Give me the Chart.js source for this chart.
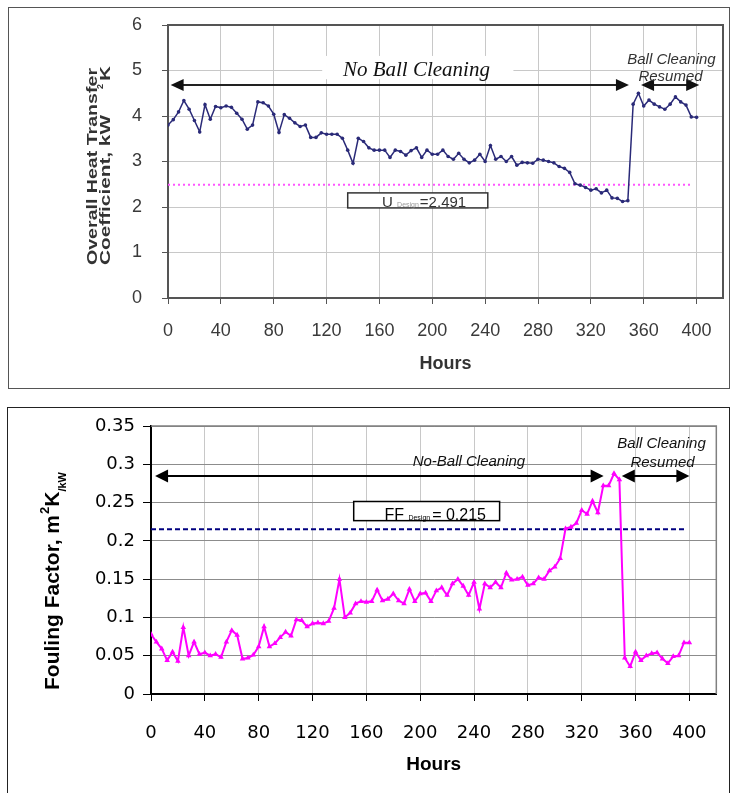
<!DOCTYPE html>
<html>
<head>
<meta charset="utf-8">
<script src="https://cdn.jsdelivr.net/npm/chart.js@4.4.1/dist/chart.umd.min.js"></script>
<style>
  body { margin: 0; background: #fff; width: 732px; height: 793px; overflow: hidden; position: relative; }
  .frame { position: absolute; box-sizing: border-box; }
  #topFrame { left: 8px; top: 7px; width: 722px; height: 382px; border: 1px solid #555; }
  #bottomFrame { left: 7px; top: 407px; width: 723px; height: 392px; border: 1px solid #222; }
  canvas { position: absolute; left: 0; top: 0; }
</style>
</head>
<body>
<div class="frame" id="topFrame"><canvas id="topChart" width="720" height="380"></canvas></div>
<div class="frame" id="bottomFrame"><canvas id="bottomChart" width="721" height="385"></canvas></div>
<script>
// hours of operation (same sampling for both charts)
const HOURS = [0, 4, 8, 12, 16, 20, 24, 28, 32, 36,
    40, 44, 48, 52, 56, 60, 64, 68, 72, 76,
    80, 84, 88, 92, 96, 100, 104, 108, 112, 116,
    120, 124, 128, 132, 136, 140, 144, 148, 152, 156,
    160, 164, 168, 172, 176, 180, 184, 188, 192, 196,
    200, 204, 208, 212, 216, 220, 224, 228, 232, 236,
    240, 244, 248, 252, 256, 260, 264, 268, 272, 276,
    280, 284, 288, 292, 296, 300, 304, 308, 312, 316,
    320, 324, 328, 332, 336, 340, 344, 348, 352, 356,
    360, 364, 368, 372, 376, 380, 384, 388, 392, 396,
    400];

// overall heat transfer coefficient, kW/m2K
const U_VALUES = [3.80, 3.92, 4.09, 4.34, 4.15, 3.90, 3.65, 4.25, 3.93, 4.21,
    4.18, 4.22, 4.19, 4.06, 3.93, 3.71, 3.80, 4.31, 4.29, 4.22,
    4.04, 3.64, 4.03, 3.95, 3.85, 3.77, 3.80, 3.53, 3.53, 3.63,
    3.60, 3.60, 3.60, 3.51, 3.25, 2.96, 3.51, 3.44, 3.30, 3.25,
    3.25, 3.25, 3.09, 3.25, 3.22, 3.14, 3.24, 3.30, 3.09, 3.25,
    3.16, 3.16, 3.25, 3.11, 3.05, 3.18, 3.05, 2.97, 3.03, 3.16,
    3.00, 3.35, 3.05, 3.11, 3.00, 3.11, 2.92, 2.98, 2.97, 2.96,
    3.05, 3.03, 3.00, 2.97, 2.89, 2.85, 2.76, 2.51, 2.48, 2.43,
    2.37, 2.40, 2.31, 2.37, 2.20, 2.19, 2.12, 2.14, 4.26, 4.50,
    4.22, 4.35, 4.26, 4.20, 4.15, 4.26, 4.42, 4.31, 4.24, 3.98,
    3.97];

// fouling factor, m2K/kW
const FF_VALUES = [0.078, 0.068, 0.059, 0.044, 0.055, 0.043, 0.087, 0.050, 0.068, 0.052,
    0.054, 0.050, 0.052, 0.048, 0.068, 0.083, 0.077, 0.046, 0.047, 0.051,
    0.062, 0.088, 0.062, 0.066, 0.074, 0.081, 0.076, 0.097, 0.096, 0.088,
    0.092, 0.093, 0.092, 0.095, 0.112, 0.150, 0.100, 0.106, 0.118, 0.121,
    0.120, 0.121, 0.136, 0.122, 0.124, 0.131, 0.122, 0.118, 0.137, 0.121,
    0.131, 0.132, 0.121, 0.135, 0.139, 0.129, 0.144, 0.150, 0.141, 0.129,
    0.146, 0.111, 0.144, 0.139, 0.146, 0.139, 0.158, 0.149, 0.150, 0.153,
    0.142, 0.144, 0.152, 0.150, 0.161, 0.166, 0.177, 0.216, 0.218, 0.223,
    0.240, 0.235, 0.252, 0.237, 0.272, 0.272, 0.288, 0.280, 0.047, 0.036,
    0.055, 0.044, 0.050, 0.053, 0.054, 0.046, 0.040, 0.049, 0.050, 0.067,
    0.067];

const U_DESIGN = 2.491;
const FF_DESIGN = 0.215;
const DESIGN_SPAN = [0, 397];

const X_TICKS = [0, 40, 80, 120, 160, 200, 240, 280, 320, 360, 400];
const U_TICKS = [0, 1, 2, 3, 4, 5, 6];
const FF_TICKS = [0, 0.05, 0.1, 0.15, 0.2, 0.25, 0.3, 0.35];

const SANS = "'Liberation Sans', Arial, sans-serif";

function points(xs, ys) {
    return xs.map((x, i) => ({x: x, y: ys[i]}));
}

function drawArrow(ctx, x1, x2, y, head, half) {
    ctx.beginPath();
    ctx.moveTo(x1 + head - 1, y);
    ctx.lineTo(x2 - head + 1, y);
    ctx.stroke();
    ctx.beginPath();
    ctx.moveTo(x1, y);
    ctx.lineTo(x1 + head, y - half);
    ctx.lineTo(x1 + head, y + half);
    ctx.closePath();
    ctx.fill();
    ctx.beginPath();
    ctx.moveTo(x2, y);
    ctx.lineTo(x2 - head, y - half);
    ctx.lineTo(x2 - head, y + half);
    ctx.closePath();
    ctx.fill();
}

// text stretched (or squeezed) to a given length, used for the rotated titles
function fitText(ctx, text, x, y, len) {
    const w = ctx.measureText(text).width;
    ctx.save();
    ctx.translate(x, y);
    ctx.scale(len / w, 1);
    ctx.fillText(text, 0, 0);
    ctx.restore();
}

function plotFrame(color, width) {
    return {
        id: 'plotFrame',
        beforeDatasetsDraw(chart) {
            const a = chart.chartArea, ctx = chart.ctx;
            ctx.save();
            ctx.strokeStyle = color;
            ctx.lineWidth = width;
            ctx.beginPath();
            ctx.moveTo(a.left, a.top);
            ctx.lineTo(a.right, a.top);
            ctx.lineTo(a.right, a.bottom);
            ctx.stroke();
            ctx.restore();
        }
    };
}

const topNotes = {
    id: 'topNotes',
    afterDraw(chart) {
        const ctx = chart.ctx, xs = chart.scales.x, ys = chart.scales.y, a = chart.chartArea;
        const px = v => xs.getPixelForValue(v), py = v => ys.getPixelForValue(v);
        ctx.save();
        // "No Ball Cleaning" label with white patch
        ctx.fillStyle = '#fff';
        ctx.fillRect(px(116.7), py(5.32), px(261.4) - px(116.7), py(4.81) - py(5.32));
        ctx.fillStyle = '#111';
        ctx.font = "italic 21px 'Liberation Serif', 'Times New Roman', serif";
        ctx.textAlign = 'center';
        ctx.textBaseline = 'alphabetic';
        ctx.fillText('No Ball Cleaning', px(188), py(4.89));
        // arrows
        ctx.strokeStyle = '#222';
        ctx.fillStyle = '#111';
        ctx.lineWidth = 2;
        drawArrow(ctx, px(2), px(348.8), py(4.68), 13, 6);
        drawArrow(ctx, px(358), px(402), py(4.68), 13, 6);
        // "Ball Cleaning Resumed"
        ctx.fillStyle = '#333';
        ctx.font = 'italic 15px ' + SANS;
        ctx.textBaseline = 'middle';
        ctx.fillText('Ball Cleaning', px(381), py(5.23));
        ctx.fillText('Resumed', px(380.3), py(4.86));
        // design value box
        const bx1 = px(136), bx2 = px(242), by1 = py(2.31), by2 = py(1.98);
        ctx.fillStyle = '#fff';
        ctx.fillRect(bx1, by1, bx2 - bx1, by2 - by1);
        ctx.strokeStyle = '#333';
        ctx.lineWidth = 1.5;
        ctx.strokeRect(bx1, by1, bx2 - bx1, by2 - by1);
        ctx.textAlign = 'left';
        ctx.textBaseline = 'alphabetic';
        let tx = px(162);
        const base = py(2.0);
        ctx.fillStyle = '#333';
        ctx.font = '15px ' + SANS;
        ctx.fillText('U', tx, base);
        tx += ctx.measureText('U ').width;
        ctx.fillStyle = '#999';
        ctx.font = '7px ' + SANS;
        ctx.fillText('Design', tx, base);
        tx += ctx.measureText('Design').width + 1;
        ctx.fillStyle = '#333';
        ctx.font = '15px ' + SANS;
        ctx.fillText('=2.491', tx, base);
        // axis titles
        ctx.fillStyle = '#333';
        ctx.font = 'bold 18px ' + SANS;
        ctx.textAlign = 'center';
        ctx.textBaseline = 'middle';
        ctx.fillText('Hours', (a.left + a.right) / 2, a.bottom + 66);
        ctx.save();
        ctx.translate(a.left - 75, a.bottom - 33);
        ctx.rotate(-Math.PI / 2);
        ctx.textAlign = 'left';
        ctx.font = 'bold 14px ' + SANS;
        fitText(ctx, 'Overall Heat Transfer', 0, 0, 197);
        fitText(ctx, 'Coefficient, kW', 0, 13, 150);
        ctx.font = 'bold 9px ' + SANS;
        ctx.fillText('2', 176, 8);
        ctx.font = 'bold 14px ' + SANS;
        fitText(ctx, 'K', 184, 13, 15);
        ctx.restore();
        ctx.restore();
    }
};

const bottomNotes = {
    id: 'bottomNotes',
    afterDraw(chart) {
        const ctx = chart.ctx, xs = chart.scales.x, ys = chart.scales.y, a = chart.chartArea;
        const px = v => xs.getPixelForValue(v), py = v => ys.getPixelForValue(v);
        ctx.save();
        ctx.fillStyle = '#111';
        ctx.font = 'italic 15px ' + SANS;
        ctx.textAlign = 'center';
        ctx.textBaseline = 'middle';
        ctx.fillText('No-Ball Cleaning', px(236.2), py(0.3027));
        ctx.fillText('Ball Cleaning', px(379.3), py(0.3264));
        ctx.fillText('Resumed', px(380), py(0.3014));
        ctx.strokeStyle = '#000';
        ctx.fillStyle = '#000';
        ctx.lineWidth = 2;
        drawArrow(ctx, px(3), px(336.3), py(0.2846), 13, 6.5);
        drawArrow(ctx, px(349.8), px(400), py(0.2846), 13, 6.5);
        // design value box
        const bx1 = px(150.6), bx2 = px(259), by1 = py(0.2514), by2 = py(0.2264);
        ctx.fillStyle = '#fff';
        ctx.fillRect(bx1, by1, bx2 - bx1, by2 - by1);
        ctx.strokeStyle = '#000';
        ctx.lineWidth = 1.5;
        ctx.strokeRect(bx1, by1, bx2 - bx1, by2 - by1);
        ctx.fillStyle = '#000';
        ctx.textAlign = 'left';
        ctx.textBaseline = 'alphabetic';
        let tx = px(173.4);
        const base = py(0.2277);
        ctx.font = '16px ' + SANS;
        ctx.fillText('FF', tx, base);
        tx += ctx.measureText('FF ').width;
        ctx.font = '7px ' + SANS;
        ctx.fillText('Design', tx, base);
        tx += ctx.measureText('Design').width + 2;
        ctx.font = '16px ' + SANS;
        ctx.fillText('= 0.215', tx, base);
        // axis titles
        ctx.font = 'bold 19px ' + SANS;
        ctx.textAlign = 'center';
        ctx.textBaseline = 'middle';
        ctx.fillText('Hours', (a.left + a.right) / 2, a.bottom + 71);
        ctx.save();
        ctx.translate(a.left - 98, a.bottom - 4);
        ctx.rotate(-Math.PI / 2);
        ctx.textAlign = 'left';
        ctx.font = 'bold 21px ' + SANS;
        ctx.fillText('Fouling Factor, m', 0, 0);
        let w = ctx.measureText('Fouling Factor, m').width;
        ctx.font = 'bold 13px ' + SANS;
        ctx.fillText('2', w + 1, -8);
        w += ctx.measureText('2').width + 1;
        ctx.font = 'bold 21px ' + SANS;
        ctx.fillText('K', w, 0);
        w += ctx.measureText('K').width;
        ctx.font = 'bold 11px ' + SANS;
        ctx.fillText('/kW', w, 10);
        ctx.restore();
        ctx.restore();
    }
};

Chart.defaults.animation = false;

new Chart(document.getElementById('topChart'), {
    type: 'line',
    data: {
        datasets: [{
            data: points(HOURS, U_VALUES),
            borderColor: '#2a2a78',
            backgroundColor: '#2a2a78',
            borderWidth: 1.5,
            pointRadius: 1.8,
            pointBorderWidth: 0,
            tension: 0
        }, {
            data: points(DESIGN_SPAN, [U_DESIGN, U_DESIGN]),
            borderColor: '#ff55ff',
            borderWidth: 2,
            borderDash: [2, 3],
            pointRadius: 0
        }]
    },
    options: {
        responsive: false,
        devicePixelRatio: 1,
        layout: {padding: {left: 0, right: 6, top: 17, bottom: 0}},
        plugins: {legend: {display: false}, tooltip: {enabled: false}},
        scales: {
            x: {
                type: 'linear', min: 0, max: 420,
                afterBuildTicks: s => { s.ticks = X_TICKS.map(v => ({value: v})); },
                afterFit: s => { s.height = 90; },
                grid: {color: '#c8c8c8', tickLength: 6, tickColor: '#555'},
                border: {color: '#555', width: 2},
                ticks: {color: '#3a3a3a', font: {family: SANS, size: 18}, padding: 16, maxRotation: 0}
            },
            y: {
                min: 0, max: 6,
                afterBuildTicks: s => { s.ticks = U_TICKS.map(v => ({value: v})); },
                afterFit: s => { s.width = 159; s.paddingTop = 0; s.paddingBottom = 0; },
                grid: {color: '#c8c8c8', tickLength: 6, tickColor: '#555'},
                border: {color: '#555', width: 2},
                ticks: {color: '#3a3a3a', font: {family: SANS, size: 18}, padding: 20}
            }
        }
    },
    plugins: [plotFrame('#555', 2), topNotes]
});

new Chart(document.getElementById('bottomChart'), {
    type: 'line',
    data: {
        datasets: [{
            data: points(HOURS, FF_VALUES),
            borderColor: '#ff00ff',
            backgroundColor: '#ff00ff',
            borderWidth: 2,
            pointStyle: 'triangle',
            pointRadius: 3.2,
            pointBorderWidth: 0,
            tension: 0
        }, {
            data: points(DESIGN_SPAN, [FF_DESIGN, FF_DESIGN]),
            borderColor: '#000080',
            borderWidth: 2,
            borderDash: [5, 3],
            pointRadius: 0
        }]
    },
    options: {
        responsive: false,
        devicePixelRatio: 1,
        layout: {padding: {left: 0, right: 9, top: 18, bottom: 0}},
        plugins: {legend: {display: false}, tooltip: {enabled: false}},
        scales: {
            x: {
                type: 'linear', min: 0, max: 420,
                afterBuildTicks: s => { s.ticks = X_TICKS.map(v => ({value: v})); },
                afterFit: s => { s.height = 99; },
                grid: {color: '#c8c8c8', tickLength: 7, tickColor: '#000'},
                border: {color: '#000', width: 2},
                ticks: {color: '#000', font: {family: "'DejaVu Sans', sans-serif", size: 18}, padding: 22, maxRotation: 0}
            },
            y: {
                min: 0, max: 0.35,
                afterBuildTicks: s => { s.ticks = FF_TICKS.map(v => ({value: v})); },
                afterFit: s => { s.width = 143; s.paddingTop = 0; s.paddingBottom = 0; },
                grid: {color: '#8c8c8c', tickLength: 8, tickColor: '#000'},
                border: {color: '#000', width: 2},
                ticks: {
                    color: '#000', font: {family: "'DejaVu Sans', sans-serif", size: 18}, padding: 8,
                    callback: v => String(+v.toFixed(2))
                }
            }
        }
    },
    plugins: [plotFrame('#808080', 1.5), bottomNotes]
});
</script>
</body>
</html>
